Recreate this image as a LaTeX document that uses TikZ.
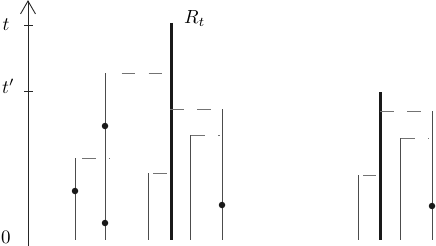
\documentclass[tikz,border=0pt]{standalone}
\usepackage{graphicx}
\begin{document}
\begin{tikzpicture}[x=1pt,y=-1pt,
  thin line/.style={draw=black!70,line width=1pt},
  thick line/.style={draw=black!90,line width=3pt},
  dash line/.style={draw=black!55,line width=1pt,dash pattern=on 13.5pt off 13.5pt},
  pt/.style={circle,fill=black!90,inner sep=0pt,minimum size=6.5pt},
  lab/.style={inner sep=0pt,anchor=base west}]
\useasboundingbox (0,0) rectangle (436,246);
% axis
\coordinate (a0) at (28,246);
\coordinate (a1) at (28,1);
\draw[black!85,line width=0.9pt] (a0) -- (a1);
\draw[black!85,line width=0.9pt,line join=miter] (20.5,14) -- (a1) -- (35.5,14);
\draw[black!85,line width=0.8pt] (24,25) -- (33,25);
\draw[black!85,line width=0.8pt] (24,91) -- (33,91);
\node[lab] (lt) at (2.5,31) {\scalebox{1.9}{$t$}};
\node[lab] (ltp) at (2,93) {\scalebox{1.9}{$t'$}};
\node[lab] (l0) at (1,243) {\scalebox{1.9}{$0$}};
\node[lab] (lR) at (184,24) {\scalebox{1.9}{$R_t$}};
% left group verticals
\draw[thin line] (75,158) -- (75,240);
\draw[thin line] (105,73) -- (105,240);
\draw[thin line] (148,173) -- (148,240);
\draw[thick line] (171,23) -- (171,240);
\draw[thin line] (190,135) -- (190,240);
\draw[thin line] (222,109) -- (222,240);
% right group verticals
\draw[thin line] (358,175) -- (358,240);
\draw[thick line] (380,92) -- (380,240);
\draw[thin line] (400,138) -- (400,240);
\draw[thin line] (432,111) -- (432,240);
% dashes
\draw[dash line] (82,158) -- (110,158);
\draw[dash line] (121.5,73) -- (162,73);
\draw[dash line] (170,109) -- (211,109);
\draw[dash line] (191,135) -- (220,135);
\draw[dash line] (153,173) -- (167,173);
\draw[dash line] (363,175) -- (376,175);
\draw[dash line] (380,111) -- (421,111);
\draw[dash line] (401,138) -- (429,138);
% dots
\node[pt] (d1) at (75,191) {};
\node[pt] (d2) at (105,126) {};
\node[pt] (d3) at (105,223) {};
\node[pt] (d4) at (222,205) {};
\node[pt] (d5) at (432,206) {};
\end{tikzpicture}
\end{document}
